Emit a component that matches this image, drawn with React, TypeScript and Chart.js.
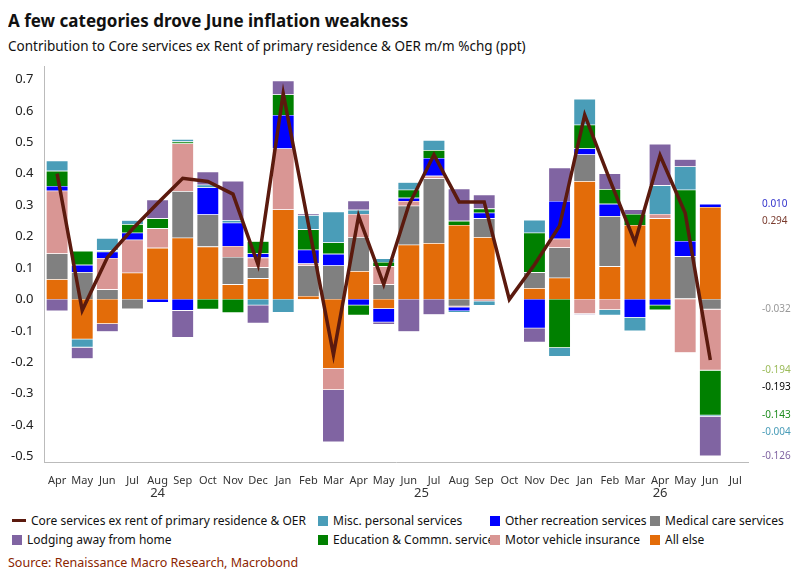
import React, { useEffect, useRef } from "react";
import { Chart, registerables } from "chart.js";
Chart.register(...registerables);

const months = ["Apr","May","Jun","Jul","Aug","Sep","Oct","Nov","Dec","Jan","Feb","Mar","Apr","May","Jun","Jul","Aug","Sep","Oct","Nov","Dec","Jan","Feb","Mar","Apr","May","Jun","Jul"];
const years = [{ label: "24", from: 0, to: 8 }, { label: "25", from: 9, to: 20 }, { label: "26", from: 21, to: 27 }];

const coreLine = [0.40,-0.035,0.133,0.224,0.306,0.385,0.375,0.335,0.11,0.655,0.24,-0.176,0.265,0.048,0.30,0.46,0.31,0.31,0.0,0.11,0.234,0.587,0.38,0.182,0.458,0.275,-0.193,null];

const allElsePos = [0.064,0,0,0.085,0.164,0.196,0.168,0.048,0.067,0.286,0.011,0,0.09,0,0.174,0.179,0.237,0.198,null,0.036,0.069,0.376,0.105,0.237,0.258,0.003,0.294,null];
const allElseNeg = [0,-0.127,-0.078,0,0,0,0,0,0,0,0,-0.22,0,-0.03,0,0,0,0,null,0,0,0,0,0,0,0,0,null];
const medicalPos = [0.082,0.087,0.032,0,0,0.148,0.102,0.087,0.035,0,0.097,0.108,0.108,0.048,0.124,0.206,0,0.06,null,0.05,0.096,0.085,0.16,0,0,0.134,0,null];
const medicalNeg = [0,0,0,-0.031,0,0,0,0,0,0,0,0,0,0,0,0,-0.022,0,null,0,0,0,0,0,0,0,-0.032,null];
const motorPos = [0.20,0,0.10,0.105,0.062,0.152,0,0.035,0.031,0.194,0.006,0,0.074,0.057,0.015,0.008,0,0,null,0,0.028,0,0,0,0.014,0,0,null];
const motorNeg = [0,0,0,0,0,0,0,0,0,0,0,-0.068,0,0,0,0,-0.003,-0.006,null,0,0,-0.046,-0.033,0,0,-0.17,-0.194,null];
const recPos = [0.015,0.023,0.02,0.022,0,0,0.086,0.074,0.013,0.107,0.044,0.037,0,0,0.01,0.057,0,0.018,null,0,0.12,0.019,0.039,0,0,0.049,0.010,null];
const recNeg = [0,0,0,0,-0.01,-0.036,0,0,0,0,0,0,-0.019,-0.043,0,0,-0.012,0,null,-0.092,0,0,0,-0.058,-0.019,0,0,null];
const eduPos = [0.048,0.044,0.004,0.027,0.032,0.006,0,0,0.039,0.065,0.065,0.036,0,0.014,0.026,0.025,0.013,0.013,null,0.126,0,0.076,0.047,0.035,0,0.163,0,null];
const eduNeg = [0,0,0,0,0,0,-0.032,-0.043,0,0,0,0,-0.032,0,0,0,0,0,null,0,-0.154,0,0,0,-0.015,0,-0.143,null];
const miscPos = [0.032,0,0.039,0.013,0,0.008,0.009,0.008,0,0,0.045,0.098,0.013,0.011,0.024,0.032,0,0,null,0.041,0,0.082,0,0,0.091,0.074,0,null];
const miscNeg = [0,-0.026,0,0,0,0,0,0,-0.019,-0.042,0,0,0,0,0,0,-0.005,-0.014,null,0,-0.028,0,-0.018,-0.043,0,0,-0.004,null];
const lodgingPos = [0,0,0,0,0.059,0,0.041,0.125,0,0.044,0.005,0,0.029,0,0,0,0.102,0.044,null,0,0.106,0,0.05,0.014,0.132,0.023,0,null];
const lodgingNeg = [-0.037,-0.036,-0.025,0,0,-0.086,0,0,-0.057,0,0,-0.166,0,-0.007,-0.103,-0.049,0,0,null,-0.045,0,-0.003,0,0,0,0,-0.126,null];

const C = {
  line: "#5B1A0E", misc: "#4A9DB8", rec: "#0000FF", med: "#808080",
  lodg: "#8064A2", edu: "#008000", motor: "#D99694", all: "#E36C09",
};

const series = [
  { name: "All else", pos: allElsePos, neg: allElseNeg, color: C.all },
  { name: "Medical care services", pos: medicalPos, neg: medicalNeg, color: C.med },
  { name: "Motor vehicle insurance", pos: motorPos, neg: motorNeg, color: C.motor },
  { name: "Other recreation services", pos: recPos, neg: recNeg, color: C.rec },
  { name: "Education & Commn. services", pos: eduPos, neg: eduNeg, color: C.edu },
  { name: "Misc. personal services", pos: miscPos, neg: miscNeg, color: C.misc },
  { name: "Lodging away from home", pos: lodgingPos, neg: lodgingNeg, color: C.lodg },
];

const labelColors: Record<string, string> = {
  "Other recreation services": "#3333CC", "All else": "#7A3B2E", "Medical care services": "#999999",
  "Motor vehicle insurance": "#9BBB59", "Education & Commn. services": "#1E8C1E",
  "Misc. personal services": "#4A9DB8", "Lodging away from home": "#8064A2",
};

const legendItems = [
  { name: "Core services ex rent of primary residence & OER", color: C.line, line: true },
  { name: "Misc. personal services", color: C.misc },
  { name: "Other recreation services", color: C.rec },
  { name: "Medical care services", color: C.med },
  { name: "Lodging away from home", color: C.lodg },
  { name: "Education & Commn. services", color: C.edu },
  { name: "Motor vehicle insurance", color: C.motor },
  { name: "All else", color: C.all },
];

const FONT = "'Noto Sans', sans-serif";

export default function App() {
  const ref = useRef<HTMLCanvasElement>(null);
  useEffect(() => {
    const datasets: any[] = [{
      type: "line", label: "Core", data: coreLine, borderColor: C.line, borderWidth: 3.5,
      pointRadius: 0, spanGaps: false, order: 0, tension: 0,
    }];
    series.forEach((s) => {
      datasets.push({ type: "bar", label: s.name, data: s.pos, backgroundColor: s.color, borderColor: "#ffffff", borderWidth: 0.6, stack: "s", order: 1, categoryPercentage: 1, barPercentage: 0.88 });
      datasets.push({ type: "bar", label: s.name + "neg", data: s.neg, backgroundColor: s.color, borderColor: "#ffffff", borderWidth: 0.6, stack: "s", order: 1, categoryPercentage: 1, barPercentage: 0.88 });
    });
    const extra = {
      id: "extra",
      afterDraw(chart: any) {
        const ctx = chart.ctx;
        const x = chart.scales.x, y = chart.scales.y;
        ctx.save();
        ctx.font = "13px " + FONT;
        ctx.fillStyle = "#333";
        ctx.textAlign = "center";
        years.forEach((yr) => {
          const cx = (x.getPixelForValue(yr.from) + x.getPixelForValue(yr.to)) / 2;
          ctx.fillText(yr.label, cx, chart.chartArea.bottom + 34);
        });
        const idx = 26;
        const anchors: { v: number; text: string; color: string }[] = [];
        let pc = 0, nc = 0;
        series.forEach((s) => {
          const p = s.pos[idx] as number, n = s.neg[idx] as number;
          if (p) { pc += p; anchors.push({ v: pc, text: p.toFixed(3), color: labelColors[s.name] }); }
          if (n) { nc += n; anchors.push({ v: nc, text: n.toFixed(3), color: labelColors[s.name] }); }
        });
        anchors.push({ v: (coreLine[idx] as number) - 0.05, text: (coreLine[idx] as number).toFixed(3), color: "#000" });
        const pts = anchors.map((a) => ({ ...a, py: y.getPixelForValue(a.v) })).sort((a, b) => a.py - b.py);
        for (let i = 1; i < pts.length; i++) if (pts[i].py - pts[i - 1].py < 17) pts[i].py = pts[i - 1].py + 17;
        ctx.font = "10px " + FONT;
        ctx.textAlign = "left";
        ctx.textBaseline = "middle";
        pts.forEach((p) => { ctx.fillStyle = p.color; ctx.fillText(p.text, chart.chartArea.right + 14, p.py); });
        ctx.restore();
      },
    };
    const chart = new Chart(ref.current!, {
      type: "bar",
      data: { labels: months, datasets },
      options: {
        animation: false, responsive: false, maintainAspectRatio: false,
        layout: { padding: { right: 46, bottom: 22, top: 2 } },
        plugins: { legend: { display: false }, tooltip: { enabled: false } },
        scales: {
          x: { stacked: true, grid: { display: false, drawTicks: true }, border: { color: "#bbb" },
            ticks: { color: "#333", font: { size: 11, family: FONT }, maxRotation: 0, autoSkip: false } },
          y: { stacked: true, min: -0.52, max: 0.74, grid: { display: false }, border: { color: "#bbb" },
            afterBuildTicks: (ax: any) => { ax.ticks = [-0.5,-0.4,-0.3,-0.2,-0.1,0,0.1,0.2,0.3,0.4,0.5,0.6,0.7].map((v) => ({ value: v })); },
            ticks: { color: "#222", font: { size: 13, family: FONT }, callback: (v: any) => Number(v).toFixed(1) } },
        },
      } as any,
      plugins: [extra],
    });
    return () => chart.destroy();
  }, []);
  return (
    <div style={{ width: 786, fontFamily: FONT, color: "#111" }}>
      <div style={{ fontWeight: 700, fontSize: 17, lineHeight: "22px", marginTop: 2 }}>A few categories drove June inflation weakness</div>
      <div style={{ fontSize: 13.5, lineHeight: "20px", marginTop: 4 }}>Contribution to Core services ex Rent of primary residence &amp; OER m/m %chg (ppt)</div>
      <canvas ref={ref} width={786} height={456} style={{ display: "block" }} />
      <div style={{ display: "grid", gridTemplateColumns: "306px 172px 160px 146px", rowGap: 2, fontSize: 12, marginLeft: 4 }}>
        {legendItems.map((l) => (
          <div key={l.name} style={{ display: "flex", alignItems: "center", whiteSpace: "nowrap", overflow: "visible" }}>
            <span style={{ display: "inline-block", flex: "none", width: l.line ? 14 : 10, height: l.line ? 3 : 10, background: l.color, marginRight: 5 }} />
            {l.name}
          </div>
        ))}
      </div>
      <div style={{ color: "#8B2500", fontSize: 12.5, marginTop: 6 }}>Source: Renaissance Macro Research, Macrobond</div>
    </div>
  );
}
